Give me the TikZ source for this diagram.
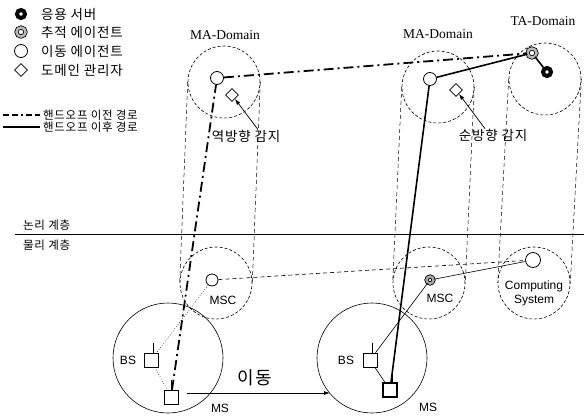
\documentclass[tikz,border=0pt]{standalone}
\usepackage{fontspec}
\setmainfont{Liberation Serif}
\setsansfont{Liberation Sans}
\newfontfamily\krfont[LetterSpace=6]{Noto Sans CJK KR}
\usetikzlibrary{arrows.meta,shapes.geometric}
\tikzset{
  zone/.style={draw, circle, dash pattern=on 3pt off 2pt, line width=0.6pt, minimum size=72pt, inner sep=0pt},
  column/.style={draw, dash pattern=on 4pt off 3pt, line width=0.5pt},
  mobagent/.style={draw, circle, fill=white, line width=0.8pt, minimum size=13pt, inner sep=0pt},
  trackagent/.style={draw, circle, double=gray!55, double distance=2.5pt, line width=0.8pt, fill=white, minimum size=9pt, inner sep=0pt},
  appserver/.style={draw, circle, line width=4pt, fill=white, minimum size=8pt, inner sep=0pt},
  manager/.style={draw, diamond, fill=white, line width=0.8pt, minimum size=13pt, inner sep=0pt},
  station/.style={draw, fill=white, line width=0.7pt, minimum width=14pt, minimum height=14pt, inner sep=0pt},
  cell/.style={draw, circle, line width=0.6pt, minimum size=110pt, inner sep=0pt},
  prepath/.style={line width=1.8pt, dash pattern=on 10pt off 4pt on 2pt off 4pt},
  postpath/.style={line width=1.6pt},
  prelink/.style={line width=0.6pt, dotted},
  predash/.style={line width=0.6pt, dash pattern=on 4pt off 3pt},
  postlink/.style={line width=0.6pt},
  pointer/.style={-{Latex[length=6pt,width=4pt]}, line width=0.7pt},
  krtext/.style={font=\krfont\fontsize{13.5}{16}\selectfont, inner sep=1pt},
  krsmall/.style={font=\krfont\fontsize{11.5}{14}\selectfont, inner sep=1pt},
  domlabel/.style={font=\fontsize{13.5}{16}\selectfont},
  netlabel/.style={font=\sffamily\fontsize{12}{14}\selectfont, align=center}
}

\begin{document}
\begin{tikzpicture}[x=1pt, y=-1pt]
  \useasboundingbox (0,0) rectangle (584,418);

  % legend
  \node[appserver] (lgSrv) at (21,14) {};
  \node[trackagent] (lgTrack) at (21,32) {};
  \node[mobagent] (lgMob) at (21,51) {};
  \node[manager] (lgMgr) at (21,70) {};
  \node[krtext, anchor=west] (lgSrvTxt) at (40,14) {응용 서버};
  \node[krtext, anchor=west] (lgTrackTxt) at (40,32) {추적 에이전트};
  \node[krtext, anchor=west] (lgMobTxt) at (40,51) {이동 에이전트};
  \node[krtext, anchor=west] (lgMgrTxt) at (40,70) {도메인 관리자};
  \coordinate (lgPreL) at (3,115);
  \coordinate (lgPreR) at (40,115);
  \coordinate (lgPostL) at (3,127);
  \coordinate (lgPostR) at (40,127);
  \draw[line width=1.6pt, dash pattern=on 6pt off 3pt on 6pt off 3pt on 2pt off 3pt] (lgPreL) -- (lgPreR);
  \draw[line width=1.2pt] (lgPostL) -- (lgPostR);
  \node[krsmall, anchor=west] (lgPreTxt) at (42,115) {핸드오프 이전 경로};
  \node[krsmall, anchor=west] (lgPostTxt) at (42,127) {핸드오프 이후 경로};

  % layers
  \coordinate (layerL) at (15,234);
  \coordinate (layerR) at (584,234);
  \draw[line width=0.8pt] (layerL) -- (layerR);
  \node[krsmall, anchor=west] (logical) at (22,225) {논리 계층};
  \node[krsmall, anchor=west] (physical) at (22,245) {물리 계층};

  % domains and columns
  \node[zone] (domA) at (224,82) {};
  \node[zone] (domB) at (438,87) {};
  \node[zone] (domT) at (545,79) {};
  \node[zone] (mscZoneA) at (216,283) {};
  \node[zone] (mscZoneB) at (429,283) {};
  \node[zone] (csZone) at (534,283) {};
  \draw[column] (domA.west) -- (mscZoneA.west);
  \draw[column] (domA.east) -- (mscZoneA.east);
  \draw[column] (domB.west) -- (mscZoneB.west);
  \draw[column] (domB.east) -- (mscZoneB.east);
  \draw[column] (domT.west) -- (csZone.west);
  \draw[column] (domT.east) -- (csZone.east);
  \node[domlabel] (domAName) at (225,35) {MA-Domain};
  \node[domlabel] (domBName) at (438,34) {MA-Domain};
  \node[domlabel] (domTName) at (543,21) {TA-Domain};

  % cells
  \node[cell] (cellA) at (168,358) {};
  \node[cell] (cellB) at (372,358) {};

  % agents and managers
  \node[mobagent] (maA) at (217,78) {};
  \node[manager] (mgrA) at (232,95) {};
  \node[mobagent] (maB) at (430,79) {};
  \node[manager] (mgrB) at (456,90) {};
  \node[trackagent] (taTrack) at (532,53) {};
  \node[appserver] (appSrv) at (547,72) {};

  % physical nodes
  \node[mobagent, minimum size=12pt] (mscA) at (212,280) {};
  \node[trackagent, double=gray!70, minimum size=7pt] (mscB) at (430,280) {};
  \node[mobagent, minimum size=15pt] (csNode) at (533,260) {};
  \node[station] (bsA) at (151,360) {};
  \node[station] (msA) at (171,397) {};
  \node[station] (bsB) at (370,360) {};
  \node[station, line width=1.1pt] (msB) at (390,390) {};
  \draw[line width=0.6pt] ([xshift=-5pt]bsA.north east) -- ++(0,-10);
  \draw[line width=0.6pt] ([xshift=-5pt]bsB.north east) -- ++(0,-10);
  \draw[line width=0.6pt] (msA.north) -- ++(0,-10);
  \draw[line width=0.6pt] ([xshift=-5pt]msB.north east) -- ++(0,-10);

  % labels
  \node[netlabel] (mscAName) at (223,300) {MSC};
  \node[netlabel] (mscBName) at (440,298) {MSC};
  \node[netlabel] (csName) at (534,293) {Computing\\System};
  \node[netlabel] (bsAName) at (128,360) {BS};
  \node[netlabel] (bsBName) at (346,360) {BS};
  \node[netlabel] (msAName) at (220,408) {MS};
  \node[netlabel] (msBName) at (428,407) {MS};
  \node[krtext] (revTxt) at (246,136) {역방향 감지};
  \node[krtext] (fwdTxt) at (493,135) {순방향 감지};
  \node[font=\krfont\fontsize{18}{20}\selectfont] (moveTxt) at (255,378) {이동};

  % links before handoff
  \draw[prelink] (mscA) -- (bsA);
  \draw[prelink] (bsA) -- (msA);
  \draw[predash] (mscA) -- (csNode);
  \draw[prepath] (msA) -- (maA);
  \draw[prepath] (maA) -- (taTrack);

  % links after handoff
  \draw[postlink] (msB) -- (bsB);
  \draw[postlink] (bsB) -- (mscB);
  \draw[postlink] (mscB) -- (csNode);
  \draw[postpath] (msB) -- (maB);
  \draw[postpath] (maB) -- (taTrack);
  \draw[postpath] (taTrack) -- (appSrv);

  % detection pointers and movement
  \path (revTxt.north) ++(12,1) coordinate (revTail);
  \path (fwdTxt.north) ++(-8,1) coordinate (fwdTail);
  \coordinate (moveStart) at (187,393);
  \coordinate (moveEnd) at (330,393);
  \draw[pointer] (revTail) -- (mgrA);
  \draw[pointer] (fwdTail) -- (mgrB);
  \draw[pointer, line width=0.8pt] (moveStart) -- (moveEnd);
\end{tikzpicture}
\end{document}
